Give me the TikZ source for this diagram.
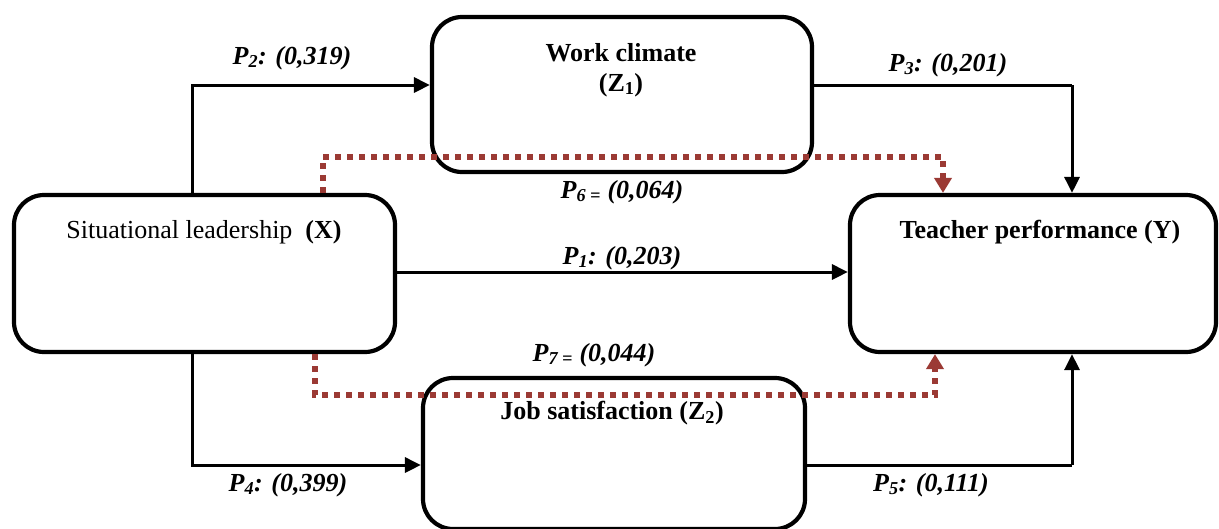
\documentclass[tikz,border=0pt]{standalone}
\usepackage{fontspec}
\setmainfont{Liberation Serif}
\usetikzlibrary{arrows.meta}
\definecolor{dotred}{HTML}{9B3A34}

\tikzset{
  varbox/.style={draw,line width=4.2pt,rounded corners=30pt,inner sep=0pt},
  varname/.style={font=\fontsize{26}{30}\selectfont\bfseries,align=center,inner sep=0pt},
  direct/.style={line width=3pt,-{Triangle[length=16pt,width=15pt]}},
  indirect/.style={dotred,line width=5.5pt,dash pattern=on 5.5pt off 6.5pt,
    -{Triangle[length=15pt,width=17pt]}},
  coef/.style={font=\fontsize{26}{29}\selectfont\bfseries\itshape,inner sep=0pt}
}

\begin{document}
\begin{tikzpicture}[x=1pt,y=-1pt]
  \useasboundingbox (0,0) rectangle (1219,528);
  % variables
  \node[varbox,minimum width=381pt,minimum height=157pt] (X) at (204.5,273.5) {};
  \node[varbox,minimum width=380pt,minimum height=155pt] (Z1) at (622,94.5) {};
  \node[varbox,minimum width=366pt,minimum height=157pt] (Y) at (1033,273.5) {};
  \node[varbox,minimum width=382pt,minimum height=151pt] (Z2) at (614,453.5) {};
  \node[varname,font=\fontsize{26}{30}\selectfont] (tX) at (204,232) {Situational leadership~~\textbf{(X)}};
  \node[varname] (tZ1) at (621,53) {Work climate};
  \node[varname] (tZ1b) at (621,85) {(Z\textsubscript{1})};
  \node[varname] (tY) at (1040,232) {Teacher performance (Y)};
  \node[varname] (tZ2) at (612,413) {Job satisfaction (Z\textsubscript{2})};
  % bends
  \coordinate (b2) at (192,85);
  \coordinate (b3) at (1072,85);
  \coordinate (b4) at (192,465);
  \coordinate (b5) at (1072,465);
  \coordinate (b6a) at (323,157);
  \coordinate (b6b) at (943,157);
  \coordinate (b7a) at (315,395);
  \coordinate (b7b) at (935,395);
  % direct paths
  \draw[direct] (X.east |- 0,272) -- (Y.west |- 0,272);
  \draw[direct] (X.north -| b2) -- (b2) -- (Z1.west |- b2);
  \draw[direct,-] (Z1.east |- b3) -- (b3);
  \draw[direct] (b3) -- (Y.north -| b3);
  \draw[direct] (X.south -| b4) -- (b4) -- (Z2.west |- b4);
  \draw[direct,-] (Z2.east |- b5) -- (b5);
  \draw[direct] (b5) -- (Y.south -| b5);
  % indirect paths
  \draw[indirect] (X.north -| b6a) -- (b6a) -- (b6b) -- (Y.north -| b6b);
  \draw[indirect] (X.south -| b7a) -- (b7a) -- (b7b) -- (Y.south -| b7b);
  % coefficients
  \node[coef] (p2) at (292,58) {P\textsubscript{2}: (0,319)};
  \node[coef] (p3) at (948,65) {P\textsubscript{3}: (0,201)};
  \node[coef] (p6) at (622,192) {P\textsubscript{6 =} (0,064)};
  \node[coef] (p1) at (622,258) {P\textsubscript{1}: (0,203)};
  \node[coef] (p7) at (594,355) {P\textsubscript{7 =} (0,044)};
  \node[coef] (p4) at (288,485) {P\textsubscript{4}: (0,399)};
  \node[coef] (p5) at (931,485) {P\textsubscript{5}: (0,111)};
\end{tikzpicture}
\end{document}
